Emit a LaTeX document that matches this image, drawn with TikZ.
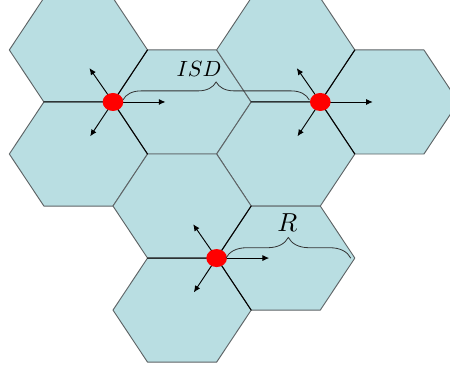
\documentclass[tikz,border=0pt]{standalone}
\usepackage{tikz}
\usetikzlibrary{arrows.meta,decorations.pathreplacing,shapes.geometric}
\definecolor{hxFill}{HTML}{B9DEE2}
\definecolor{hxEdge}{HTML}{5E6466}
\definecolor{hxSite}{HTML}{FF0000}
\tikzset{
  hx diagram/.style={line cap=round, line join=round},
  hx cell/.style={fill=hxFill, draw=hxEdge, line width=0.7pt},
  hx sector/.style={draw=black, line width=0.75pt},
  hx site/.style={ellipse, fill=hxSite, minimum width=15.5pt,
    minimum height=13.5pt, inner sep=0pt},
  hx arrow/.style={-{Latex[length=5pt,width=4.5pt]}, draw=black, line width=0.7pt},
  hx brace/.style={decorate, decoration={brace, amplitude=#1},
    draw=black!80, line width=0.6pt},
  hx label/.style={scale=#1, transform shape, inner sep=0pt}
}

\begin{document}
\begin{tikzpicture}[hx diagram,x=51.8pt,y=39pt]
\clip (-1.635,-5.13) rectangle (4.877,1.96);
% cells, three round each site
\foreach \cx/\cy in {-0.5/1,-0.5/-1,1/0,2.5/1,2.5/-1,4/0,1/-2,1/-4,2.5/-3}{
 \draw[hx cell] (\cx+1,\cy) -- (\cx+0.5,\cy+1) -- (\cx-0.5,\cy+1) -- (\cx-1,\cy)
  -- (\cx-0.5,\cy-1) -- (\cx+0.5,\cy-1) -- cycle;
}
% sites and their sectors
\foreach \n/\sx/\sy in {1/0/0,2/3/0,3/1.5/-3}{
 \begin{scope}[shift={(\sx,\sy)}]
 \coordinate (c\n) at (0,0);
 \coordinate (w\n) at (-1,0);
 \coordinate (ne\n) at (0.5,1);
 \coordinate (se\n) at (0.5,-1);
 \coordinate (ae\n) at (0.76,0);
 \coordinate (anw\n) at (-0.34,0.65);
 \coordinate (asw\n) at (-0.33,-0.66);
 \draw[hx sector] (w\n) -- (c\n) -- (ne\n);
 \draw[hx sector] (c\n) -- (se\n);
 \draw[hx arrow] (c\n) -- (ae\n);
 \draw[hx arrow] (c\n) -- (anw\n);
 \draw[hx arrow] (c\n) -- (asw\n);
 \node[hx site] (s\n) at (c\n) {};
 \end{scope}
}
% distances
\coordinate (isdL) at (0.145,0.04);
\coordinate (isdR) at (2.84,0.04);
\draw[hx brace=13.5pt] (isdL) -- (isdR);
\node[hx label=1.65] (isd) at (1.245,0.625) {$ISD$};
\coordinate (rL) at (1.635,-3);
\coordinate (rR) at (3.44,-3);
\draw[hx brace=15.5pt] (rL) -- (rR);
\node[hx label=1.95] (r) at (2.525,-2.317) {$R$};
\end{tikzpicture}
\end{document}
